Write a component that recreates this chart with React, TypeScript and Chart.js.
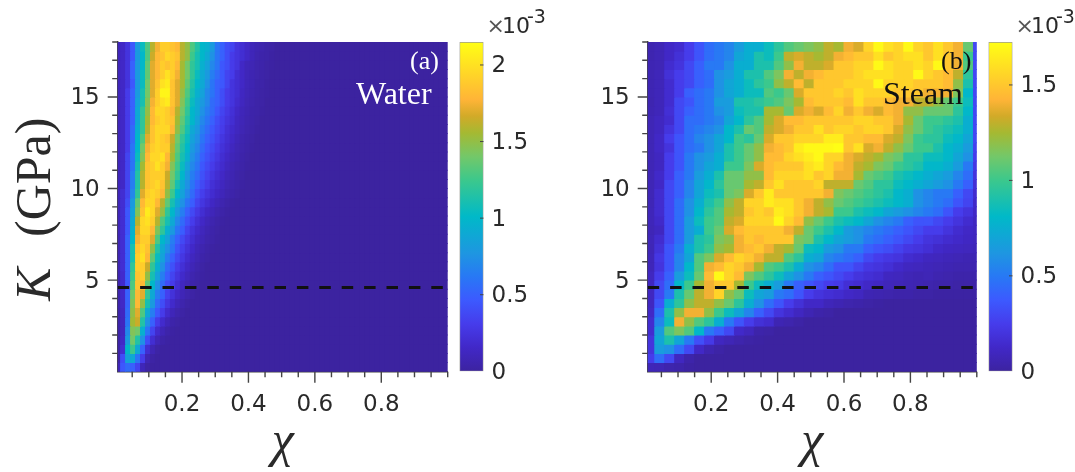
import React, { useEffect, useRef } from "react";
import { Chart, registerables } from "chart.js";

Chart.register(...registerables);

// Colour stops of the map, lowest to highest, and where each one sits on the bar (0 to 1)
const MAP_COLOURS: number[][] = [
  [60, 35, 160], [65, 40, 200], [70, 60, 235], [60, 90, 255], [40, 120, 245], [30, 150, 225],
  [0, 185, 200], [60, 200, 140], [115, 200, 105], [165, 185, 50], [210, 170, 40], [255, 180, 55], [255, 255, 20],
];
const MAP_POSITIONS: number[] = [0, 0.073, 0.144, 0.217, 0.287, 0.358, 0.47, 0.581, 0.652, 0.724, 0.775, 0.825, 1];

const K_STEP = 0.5;
const K_MAX = 18;
const DASH_K = 4.6;
const CHI_TICK_LABELS = [0.2, 0.4, 0.6, 0.8];
const WATER_MAX = 2.15;
const STEAM_MAX = 1.725;
const WATER_COL_WIDTH = 0.015;
const STEAM_COL_WIDTH = 0.03;
const WATER_COLS = 67;

// Values in units of 1e-4, rows from K = 18 (top) to K = 0 (bottom), columns from low chi to high chi
const WATER_ROWS: number[][] = [
  [1,1.5,2.5,4.5,8,10.5,13,16,17.5,19,19,18.5,18,16,15,13,11.5,10,9.5,8,6,5,4,3.5,2.5,2,1.5,1,.7,.5,.3,.2],
  [1,1.5,2.5,4.5,8,10,13,16.5,18,18.5,19.5,19,18.5,16,15,12.5,11,10,9,7.5,6,5,4,3,2.5,2,1.5,1,.6,.4,.3,.1],
  [1,1.5,2.5,5,8,10,13.5,17,18,19,18.5,19,18,15.5,14,12,11,9.5,8.5,7,6,4.5,4,3,2.5,1.5,1,.8,.5,.4,.2,.1],
  [1,1.5,2.5,5,8,10.5,13.5,17,18,19,20,19,17.5,15.5,14,12,10.5,9,8,6.5,5.5,4.5,3.5,3,2,1.5,1,.7,.5,.3,.2],
  [1,1.5,2.5,4.5,8,10.5,14,17,18.5,20,20.5,18.5,17,15.5,13.5,11.5,10,9,7.5,6,5,4.5,3.5,2.5,2,1.5,1,.7,.4,.3,.1],
  [1,1.5,3,5,8,11,14,17,19,21,21,18.5,17,15,13,11,9.5,8.5,7,6,5,4,3,2.5,2,1.3,.9,.6,.4,.2,.1],
  [1,1.5,3,5,8.5,11,14.5,17.5,19,20,20.5,18.5,17,14.5,12.5,10.5,9,8,7,5.5,5,4,3,2.5,1.8,1.2,.8,.5,.3,.2],
  [1,1.5,3,5,9,12,15,18,19.5,19.5,19,18,16,14,12,10,9,7.5,6.5,5.5,4.5,3.5,2.8,2.2,1.5,1,.7,.4,.3,.1],
  [1,1.5,3,5,9,12,15.5,18,19,19.5,19,18.5,15.5,13.5,11.5,10,8.5,7,6,5,4,3.2,2.5,2,1.3,.9,.6,.4,.2],
  [1,1.5,3,5.5,9.5,12,16,18.5,19.5,19.5,19.5,18,15,13,11,9,8,6.5,5.5,4.5,3.7,3,2.2,1.7,1.2,.8,.5,.3,.1],
  [1,1.5,3,5.5,10,13,17,18.5,19.5,19,18.5,16.5,14,12,10.5,8.5,7.5,6,5,4.2,3.4,2.6,2,1.5,1,.6,.4,.2],
  [1,1.5,3,6,10,14,17.5,19,19.5,19,19,16,13.5,11.5,10,8,7,5.5,4.5,3.8,3,2.3,1.8,1.2,.8,.5,.3,.1],
  [1,1.5,3.5,6,10.5,14.5,18,19.5,19.5,20,18,15.5,13,11,9.5,7.5,6.5,5,4.2,3.4,2.7,2,1.5,1,.7,.4,.2],
  [1,1.5,3.5,6,11,15.5,18.5,19,20,19,17.5,14.5,12.5,10.5,8.5,7,6,4.5,3.8,3,2.3,1.8,1.2,.8,.5,.3,.1],
  [1,1.5,3.5,6.5,11.5,16,18.5,19,19,19,16.5,14,12,10,8,6.5,5.5,4.2,3.4,2.6,2,1.5,1,.7,.4,.2],
  [1,1.5,3.5,6.5,11.5,16,18.5,19,19.5,18.5,16,13.5,11,9,7.5,6,4.8,3.8,3,2.2,1.7,1.2,.8,.5,.3,.1],
  [1,2,3.5,7,12,17,19,19.5,19,18,15,12.5,10,8.5,7,5.5,4.2,3.2,2.5,1.9,1.4,1,.6,.4,.2],
  [1,2,4,8,13.5,18,19.5,19.5,18,16,13.5,11,9,7.5,6,4.8,3.5,2.6,2,1.4,1,.6,.3,.1],
  [1,2,4.5,8.5,14.5,18.5,20.5,19.5,17,15,12,10,8,6.5,5,3.8,2.8,2,1.4,1,.6,.3,.1],
  [1,2,4.5,9,16,19.5,20,19,16,13,11,9,7,5.5,4.2,3.1,2.2,1.5,1,.6,.3,.1],
  [1,2,4.5,9.5,17,19.5,19.5,18,14.5,12,9.5,8,6,4.8,3.4,2.4,1.7,1.1,.7,.4,.2],
  [.8,2,5,10,17.5,19,19,17,13,10,8.5,6.5,5,3.8,2.8,2,1.3,.9,.5,.3,.1],
  [.8,2,5,11,18.5,19.5,18.5,15,11.5,9,7.5,6,4.3,3.2,2.3,1.6,1,.6,.3,.1],
  [.8,2,5,11,19,20,18,13.5,10.5,8.5,6.5,5,3.7,2.7,1.9,1.2,.8,.4,.2],
  [.8,2,5,12,19,19,16.5,12,9.5,7.5,5.5,4.2,3,2.2,1.5,.9,.5,.2],
  [.7,1.8,5,12.5,18.5,19,15,11,8.5,6.5,4.8,3.5,2.5,1.7,1.1,.6,.3,.1],
  [.6,1.7,4.5,13,18.5,18,13.5,10,7.5,5.5,4,3,2,1.3,.8,.4,.2],
  [.5,1.6,5,14,18,17,12,9,6.5,5,3.3,2.3,1.5,.9,.5,.2],
  [.5,1.5,5,14.5,18,15,11,8,5.5,4,2.6,1.7,1,.5,.2],
  [.4,1.3,5.5,15,17,13,9,6.5,4.5,3,1.8,1,.5,.2],
  [.4,1.2,6,15.5,16.5,11.5,7.5,5,3,1.8,1,.4,.2],
  [.3,1.2,7,14.5,14,9.5,6,3.5,1.8,.9,.4,.1],
  [.3,1.5,8,14,11.5,7.5,4,2,.9,.3,.1],
  [.3,2,10,12.5,9,5,2,.8,.2],
  [.3,4,8.5,9,6,3,.8,.2],
  [1,4.5,5.5,5,3.5,1,.2],
];

const STEAM_ROWS: number[][] = [
  [.5,.7,1.2,1.5,2.5,3.5,4.5,5,5.5,6.5,7.5,7.5,8.5,9.5,10.5,11,11.5,12,13,12.5,14,13.5,15.5,17,16,15.5,17,15.5,15,16,15,14,11,3],
  [.5,.7,1.2,1.8,2.5,3.5,4.5,5,5.5,7,7.5,9,8.5,10,13,13.5,13,12.5,13,14,14.5,15,15,16,15,15.5,16,16,15,16,15,14,10,3],
  [.6,.7,1.5,2,3,4,5,5,6,7.5,7.5,9,9,10.5,12,14,13,13,13.5,15,15,15.5,15.5,17,16,15.5,15.5,16,15.5,17,15,14,10.5,3],
  [.6,.8,1.8,2.5,3,4,4.5,6,6.5,7.5,9,9,10.5,11.5,14,13,14,14.5,15,15,15,15.5,16,16,16,15.5,15.5,17,15.5,15,14.5,13,9.5,3],
  [.6,.8,1.5,2.5,3,4,4.5,6,7,7.5,8.5,9.5,10,12,13,14.5,13,15,15,15,15.5,15.5,15.5,17,15.5,15.5,15.5,15,15,15,14.5,12,9,3],
  [.6,.8,1.5,2.5,4,4.5,5,6,7,7.5,8.5,8.5,10.5,10,11,13.5,15,15,15,15.5,15,16,15.5,15.5,15.5,15,15,15,14,14,14,11.5,8,3],
  [.5,.8,1.5,3,3.5,4.5,5,6.5,6.5,9,9,9.5,10,10.5,11.5,12.5,14.5,15,15,15,14.5,16,15,15,14.5,14,14,13,13,12,11,10,8.5,3],
  [.6,.8,1.7,3,4,4.5,5,6,6.5,8.5,9,9,12.5,12.5,11,13.5,14,13.5,14.5,15.5,14,15,14,13.5,14.5,14,12,12,11,11,11,9.5,8,3],
  [.7,1,1.5,3,4.5,4.5,5,5.5,7,8,9.5,10.5,12.5,13.5,14.5,14.5,15,15,15,15,15,15.5,15.5,15,15,14,12.5,11,10,10,9.5,9,7.5,3],
  [.7,1,2,3,4.5,5,5.5,6,8,9,11,10.5,13,13.5,14,15,15,16,15,15.5,15.5,15,15.5,15.5,15,13.5,12,11,10,9.5,9,8.5,7.5,3],
  [.7,1.2,2.5,3.5,4.5,5.5,6,7,8,10,9.5,11,13.5,15,15,15.5,15.5,15.5,16.5,16.5,15,15,14.5,14.5,13.5,13,11.5,10,9.5,9.5,8.5,8,7,3],
  [.7,1.2,2,3.5,4.5,5,6,7,9,10,11,12,14,14.5,15,16.5,17,17,17,17.2,15,16,13.5,14,13,12,11,10,10,9,8,7.5,6.5,2.7],
  [.7,1,2.5,3.5,5,6,6.5,7.5,9,10,11,12,14.5,14.5,15.5,16,16.5,17,15.5,15.5,14,13.5,13,12.5,11.5,11,9.5,9.5,8.5,8.5,8,7,6,2.5],
  [.7,1,2.5,3.5,5,6,7,7.5,10,10,11.5,13.5,14.5,15,15,15,16,16.5,15.5,14.5,14,13,12.5,11.5,11,10,9.5,9,8,8,7.5,6.5,5,2.2],
  [.7,1.3,2.5,4,5,6.5,7.5,9,11,11,12,12,14.5,15.5,15.5,15.5,16,15,15.5,14,14,12.5,11,10.5,10,9,8.5,8,7.5,7,6.5,5.5,4.5,2],
  [.7,1.2,3,4,5.5,7,8,9.5,11,11,12.5,13,15,16,15,15,15,15.5,13,13,13,11,10.5,9.5,9.5,8.5,8,7.5,7,6.5,6,5,4,1.7],
  [.7,1.5,3,4,5.5,7,8.5,9,11,11.5,13.5,15,16.5,15,15,15,15,15,14,11.5,11,10.5,10,9.5,9,8,7.5,6,5.5,5,5,4,3,1.5],
  [.7,1.5,3,4.5,6,7.5,9,10,12,13,15.5,15.5,16.5,16,16,15,14,13,12,11,10.5,10,9.5,9,8.5,8,7.5,6,5.5,5,4.5,3.5,2.8,1.3],
  [.8,1.5,3,4.5,6,8,9.5,10.5,12.5,13,15,15.5,15,16.5,16,15,14,13,12.5,10,10,9,8.5,8,7,6.5,6,5.5,5,4.5,3.5,2.5,2,1.2],
  [.8,1.3,3,4.5,6.5,8.5,10,10.5,13,13.5,15.5,15.5,15.5,17,15.5,14.5,12,11,10,9,8.5,8,7,6,5.5,5,4,3.5,3.5,3,2.5,2,1.5,1],
  [.7,1,3,4.5,6.5,7.5,10,11,13.5,14.5,15,15,15,15,14,13,11,10,9,8,6.5,6,5.5,5,4.5,4,3.5,3,2.5,2.5,2,1.5,1.2,1],
  [.8,1.5,3,4.5,6.5,9,9.5,11.5,12,14,15,14.5,15,15,15,11.5,11,9,8,7,6.5,6,5,4.5,4,3.5,3,2.5,2,1.8,1.5,1.3,1.1,.9],
  [.7,1.8,3.5,5,7.5,9,10,12,12.5,14,14.5,15,14,13,12.5,11,8.5,8,6.5,6,5,5,4,3.5,3.2,2.7,2.2,2,1.7,1.3,1.1,1,.9,.8],
  [.8,2.2,3.5,5.5,7,10.5,11.5,13.5,14.5,15.5,15,14,13,13,10.5,9.5,7.5,7,5.5,5,4.5,4,3,2.5,2.2,2,1.5,1.3,1,.9,.8,.7,.6,.6],
  [.8,2,3.5,5.5,8,10.5,14,14.5,15.5,15,14,12.5,10.5,10,9,7.5,6,5.5,4.5,3.5,3.5,2.8,2.2,2,1.7,1.3,1,.9,.8,.7,.6,.5,.5,.5],
  [1,2.5,4,6.5,8.5,11,14.5,17,15.5,14.5,11.5,10.5,9.5,8.5,7,6,5,4,3.5,3,2.5,2,1.7,1.5,1,.9,.7,.6,.7,.5,.4,.3,.3,.3],
  [1,3,4.5,8,10,12.5,14,15,15,12.5,10,8.5,7.5,6.5,5,4,3.5,3,2.5,2.3,1.7,1.5,1.2,1,.8,.7,.6,.5,.4,.3,.3,.2,.2,.2],
  [1,3,5,9,11,13,14,15.5,12,11,8.5,7,6.5,5,4.5,3.5,2.5,2,1.7,1.5,1.2,1,.6,.5,.4,.3,.3,.2,.2,.1,.1,.1,.1,.1],
  [1,3.5,7.5,9.5,12,13,13,12,11,9.5,7.5,6,4.5,3.5,2.5,1.8,1.2,1.2,.8,.6,.4,.3,.2,.1],
  [1.2,4.5,9,12,14,14,12,10,8.5,7,5.5,4,3,2,1.5,1,.6,.3,.2],
  [1.5,5.5,8.5,14,12,10.5,9.5,7.5,5,3.5,2.5,1.8,1.5,.6,.4,.2],
  [1.5,6.5,10.5,11.5,10.5,8,5,4,3,1.3,.9,.3,.2],
  [2,7,9,7,5,3.3,2.3,1,.7,.4,.2,.1],
  [2,6.5,6,4.5,3,1.2,.5,.2],
  [2.5,4.5,3,1,.3],
  [.8,.7,.4,.3,.1],
];

const TICK_FONT = "DejaVu Sans";
const SERIF = "Liberation Serif";
const TEXT_COLOR = "#2a2a2a";
const AXIS_COLOR = "#444444";

function colourFor(value: number, max: number): string {
  const f = Math.min(1, Math.max(0, value / max));
  let i = 0;
  while (i < MAP_POSITIONS.length - 2 && f > MAP_POSITIONS[i + 1]) i++;
  const t = (f - MAP_POSITIONS[i]) / (MAP_POSITIONS[i + 1] - MAP_POSITIONS[i]);
  const c = MAP_COLOURS[i].map((v, j) => Math.round(v + (MAP_COLOURS[i + 1][j] - v) * t));
  return `rgb(${c[0]},${c[1]},${c[2]})`;
}

const isMultiple = (v: number, step: number) =>
  Math.abs(v / step - Math.round(v / step)) < 1e-6;
const isChiLabel = (v: number) => CHI_TICK_LABELS.some((t) => Math.abs(t - v) < 1e-6);

// Outward ticks, long at labelled values and short elsewhere
const axisTicksPlugin = {
  id: "axisTicks",
  afterDraw(chart: any) {
    const { ctx, chartArea, scales } = chart;
    ctx.save();
    ctx.strokeStyle = AXIS_COLOR;
    ctx.lineWidth = 1.4;
    ctx.beginPath();
    scales.x.ticks.forEach((t: any) => {
      if (t.value < scales.x.min) return;
      const p = scales.x.getPixelForValue(t.value);
      const len = isChiLabel(t.value) ? 11 : 5.5;
      ctx.moveTo(p, chartArea.bottom);
      ctx.lineTo(p, chartArea.bottom + len);
    });
    scales.y.ticks.forEach((t: any) => {
      if (t.value <= 0) return;
      const p = scales.y.getPixelForValue(t.value);
      const len = isMultiple(t.value, 5) ? 10 : 5.5;
      ctx.moveTo(chartArea.left, p);
      ctx.lineTo(chartArea.left - len, p);
    });
    ctx.stroke();
    ctx.restore();
  },
};

type Label = { text: string; x: number; y: number; font: string; color: string; rotate?: boolean };

const textPlugin = (labels: Label[]) => ({
  id: "pageText",
  afterDraw(chart: any) {
    const { ctx } = chart;
    ctx.save();
    ctx.textBaseline = "alphabetic";
    ctx.textAlign = "left";
    labels.forEach((l) => {
      ctx.save();
      ctx.font = l.font;
      ctx.fillStyle = l.color;
      ctx.translate(l.x, l.y);
      if (l.rotate) ctx.rotate(-Math.PI / 2);
      ctx.fillText(l.text, 0, 0);
      ctx.restore();
    });
    ctx.restore();
  },
});

function heatmapConfig(rows: number[][], colWidth: number, colCount: number, max: number, xMin: number, areaRight: number, labels: Label[]) {
  const xMax = 1;
  const datasets: any[] = rows.map((row, i) => {
    const top = K_MAX - i * K_STEP;
    const cells = Array.from({ length: colCount }, (_, c) => row[c] ?? 0);
    return {
      type: "bar",
      grouped: false,
      data: cells.map((_, c) => ({ x: (c + 0.5) * colWidth, y: [top - K_STEP, top] })),
      backgroundColor: cells.map((v) => colourFor(v / 10, max)),
      borderWidth: 0,
      inflateAmount: 0.5,
      barPercentage: 1,
      categoryPercentage: 1,
      order: 2,
    };
  });
  datasets.push({
    type: "line",
    data: [{ x: xMin, y: DASH_K }, { x: xMax, y: DASH_K }],
    borderColor: "#111111",
    borderWidth: 3,
    borderDash: [11.5, 10.9],
    pointRadius: 0,
    order: 0,
  });
  return {
    type: "bar",
    data: { datasets },
    plugins: [axisTicksPlugin, textPlugin(labels)],
    options: {
      responsive: false,
      animation: false,
      events: [],
      layout: { autoPadding: false, padding: { top: 42, right: 452 - areaRight, left: 0, bottom: 0 } },
      plugins: { legend: { display: false }, tooltip: { enabled: false }, title: { display: false } },
      scales: {
        x: {
          type: "linear",
          offset: false,
          min: xMin,
          max: xMax,
          afterFit(s: any) { s.height = 100.3; s.paddingLeft = 0; s.paddingRight = 0; },
          grid: { display: false, drawTicks: false, offset: false },
          border: { display: true, color: AXIS_COLOR, width: 1.4 },
          title: {
            display: true,
            text: "χ",
            color: TEXT_COLOR,
            font: { family: SERIF, style: "italic", size: 50 },
            padding: { top: 0, bottom: -1 },
          },
          ticks: {
            stepSize: 0.05,
            includeBounds: false,
            autoSkip: false,
            maxRotation: 0,
            padding: 20,
            color: TEXT_COLOR,
            font: { family: TICK_FONT, size: 23 },
            callback: (v: number) => (isChiLabel(v) ? v.toFixed(1) : ""),
          },
        },
        y: {
          type: "linear",
          min: 0,
          max: K_MAX,
          afterFit(s: any) { s.width = 117.7; s.paddingTop = 0; s.paddingBottom = 0; },
          grid: { display: false, drawTicks: false },
          border: { display: true, color: AXIS_COLOR, width: 1.4 },
          ticks: {
            stepSize: 1,
            includeBounds: false,
            autoSkip: false,
            padding: 18,
            labelOffset: 1.5,
            color: TEXT_COLOR,
            font: { family: TICK_FONT, size: 23 },
            callback: (v: number) => (isMultiple(v, 5) && v > 0 ? String(v) : ""),
          },
        },
      },
    },
  };
}

// Short inward ticks on the right edge of a colour bar
const barTicksPlugin = {
  id: "barTicks",
  afterDraw(chart: any) {
    const { ctx, chartArea, scales } = chart;
    ctx.save();
    ctx.strokeStyle = AXIS_COLOR;
    ctx.lineWidth = 1;
    ctx.beginPath();
    scales.y.ticks.forEach((t: any) => {
      if (t.value <= 0) return;
      const p = scales.y.getPixelForValue(t.value);
      ctx.moveTo(chartArea.right, p);
      ctx.lineTo(chartArea.right - 3.5, p);
    });
    ctx.stroke();
    ctx.restore();
  },
};

function colourBarConfig(max: number, left: number, right: number, canvasWidth: number) {
  return {
    type: "bar",
    data: {
      labels: [""],
      datasets: [{
        data: [[0, max]],
        barPercentage: 1,
        categoryPercentage: 1,
        borderWidth: 1,
        borderSkipped: false,
        borderColor: "#9a9a92",
        backgroundColor: (c: any) => {
          const area = c.chart.chartArea;
          if (!area) return "rgb(60,35,160)";
          const g = c.chart.ctx.createLinearGradient(0, area.bottom, 0, area.top);
          MAP_COLOURS.forEach((p, i) => g.addColorStop(MAP_POSITIONS[i], `rgb(${p[0]},${p[1]},${p[2]})`));
          return g;
        },
      }],
    },
    plugins: [barTicksPlugin, textPlugin([
      { text: "×", x: left + 27, y: 33, font: `22px "${TICK_FONT}"`, color: "#555555" },
      { text: "10", x: left + 42.5, y: 33, font: `22px "${TICK_FONT}"`, color: TEXT_COLOR },
      { text: "-3", x: left + 67.5, y: 23, font: `19px "${TICK_FONT}"`, color: TEXT_COLOR },
    ])],
    options: {
      responsive: false,
      animation: false,
      events: [],
      layout: { autoPadding: false, padding: { top: 42, left, right: canvasWidth - right - 60, bottom: 0 } },
      plugins: { legend: { display: false }, tooltip: { enabled: false }, title: { display: false } },
      scales: {
        x: {
          display: true,
          afterFit(s: any) { s.height = 100.7; s.paddingLeft = 0; s.paddingRight = 0; },
          grid: { display: false, drawTicks: false },
          border: { display: false },
          ticks: { display: false },
        },
        y: {
          position: "right",
          min: 0,
          max,
          afterFit(s: any) { s.width = 60; s.paddingTop = 0; s.paddingBottom = 0; },
          grid: { display: false, drawTicks: false },
          border: { display: false },
          ticks: {
            stepSize: 0.5,
            includeBounds: false,
            autoSkip: false,
            padding: 8,
            labelOffset: 1.5,
            color: TEXT_COLOR,
            font: { family: TICK_FONT, size: 23 },
            callback: (v: number) => String(v),
          },
        },
      },
    },
  };
}

function Panel({ config, left, width }: { config: () => any; left: number; width: number }) {
  const ref = useRef<HTMLCanvasElement>(null);
  useEffect(() => {
    const chart = new Chart(ref.current as HTMLCanvasElement, config());
    return () => chart.destroy();
  }, []);
  return <canvas ref={ref} width={width} height={472} style={{ position: "absolute", left, top: 0, width, height: 472 }} />;
}

export default function App() {
  const roman = (size: number) => `${size}px "${SERIF}"`;
  const axisLabels: Label[] = [
    { text: "K", x: 50, y: 301, font: `italic 50px "${SERIF}"`, color: TEXT_COLOR, rotate: true },
    { text: "(GPa)", x: 50, y: 237, font: roman(50), color: TEXT_COLOR, rotate: true },
  ];
  return (
    <div style={{ position: "fixed", left: 0, top: 0, width: 1075, height: 472, background: "#fff", overflow: "hidden", filter: "blur(0.4px)" }}>
      <Panel left={0} width={452} config={() => heatmapConfig(WATER_ROWS, WATER_COL_WIDTH, WATER_COLS, WATER_MAX, 0.0063, 447.7, [
        ...axisLabels,
        { text: "(a)", x: 410, y: 69, font: roman(26), color: "#ffffff" },
        { text: "Water", x: 356, y: 104, font: roman(32), color: "#ffffff" },
      ])} />
      <Panel left={530} width={452} config={() => heatmapConfig(STEAM_ROWS, STEAM_COL_WIDTH, 34, STEAM_MAX, 0.0087, 446.8, [
        { text: "(b)", x: 411, y: 69, font: roman(26), color: "#111111" },
        { text: "Steam", x: 353, y: 104, font: roman(32), color: "#111111" },
      ])} />
      <Panel left={450} width={110} config={() => colourBarConfig(WATER_MAX, 9.5, 33.5, 110)} />
      <Panel left={979} width={96} config={() => colourBarConfig(STEAM_MAX, 9.5, 33.5, 96)} />
    </div>
  );
}
